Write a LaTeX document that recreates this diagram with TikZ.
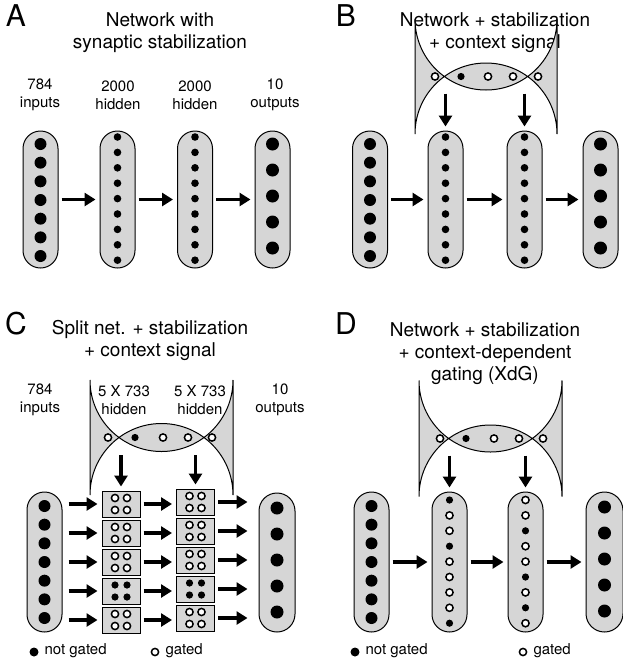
\documentclass[tikz,border=0pt]{standalone}
\usepackage{fontspec}
\setmainfont{TeX Gyre Heros}
\usetikzlibrary{arrows.meta,calc}
\definecolor{pillgray}{RGB}{214,214,214}
\tikzset{
  pill/.style={draw=black,line width=1pt,fill=pillgray,rounded corners=#1,inner sep=0pt},
  box/.style={draw=black,line width=1pt,fill=pillgray,inner sep=0pt,minimum width=38pt,minimum height=26pt},
  arr/.style={line width=3.5pt,-{Triangle[length=11pt,width=13pt]},shorten >=4pt,shorten <=3pt},
  fd/.style={fill=black},
  od/.style={fill=white,draw=black,line width=1.5pt},
  ttl/.style={font=\fontsize{19}{22}\selectfont,align=center},
  lbl/.style={font=\fontsize{15}{18}\selectfont,align=center},
  letter/.style={font=\fontsize{30}{32}\selectfont}
}
\newcommand{\mypill}[5]{\node[pill=#4/2,minimum width=#4,minimum height=#5] (#1) at (#2,#3) {};}
\begin{document}
\begin{tikzpicture}[x=1pt,y=-1pt]
\useasboundingbox (0,0) rectangle (622,662);
% ---------------- Panel A
\node[letter] (LA) at (16,16) {A};
\node[ttl] (tA) at (160,33) {Network with\\synaptic stabilization};
\node[lbl] (a1) at (40,95) {784\\inputs};
\node[lbl] (a2) at (118,95) {2000\\hidden};
\node[lbl] (a3) at (195,95) {2000\\hidden};
\node[lbl] (a4) at (275,95) {10\\outputs};
\mypill{Ai}{40.5}{199.5}{35pt}{137pt}
\mypill{Ah1}{117.5}{199.5}{35pt}{137pt}
\mypill{Ah2}{195}{199.5}{35pt}{137pt}
\mypill{Ao}{272.5}{199.5}{35pt}{137pt}
\foreach \k in {0,...,6} \fill (40.5,144+\k*18.67) circle (6pt);
\foreach \k in {0,...,8} {\fill (117.5,137+\k*15.4) circle (3.8pt); \fill (195,137+\k*15.4) circle (3.8pt);}
\foreach \k in {0,...,4} \fill (272.5,144+\k*26) circle (6.5pt);
\draw[arr] (Ai) -- (Ah1); \draw[arr] (Ah1) -- (Ah2); \draw[arr] (Ah2) -- (Ao);
% ---------------- Panel B
\node[letter] (LB) at (346,16) {B};
\node[ttl] (tB) at (495,33) {Network + stabilization\\+ context signal};
\mypill{Bc}{486}{76.5}{142pt}{27pt}
\foreach \x/\s in {435/od,461/fd,488/od,513/od,538/od} \path[\s] (\x,76.5) circle (3.6pt);
\mypill{Bi}{370}{199.5}{35pt}{137pt}
\mypill{Bh1}{445.5}{199.5}{35pt}{137pt}
\mypill{Bh2}{524.5}{199.5}{35pt}{137pt}
\mypill{Bo}{600.5}{199.5}{35pt}{137pt}
\foreach \k in {0,...,6} \fill (370,144+\k*18.67) circle (6pt);
\foreach \k in {0,...,8} {\fill (445.5,137+\k*15.4) circle (3.8pt); \fill (524.5,137+\k*15.4) circle (3.8pt);}
\foreach \k in {0,...,4} \fill (600.5,144+\k*26) circle (6.5pt);
\draw[arr] (Bi) -- (Bh1); \draw[arr] (Bh1) -- (Bh2); \draw[arr] (Bh2) -- (Bo);
\draw[arr] (Bc.south -| Bh1) -- (Bh1); \draw[arr] (Bc.south -| Bh2) -- (Bh2);
% ---------------- Panel C
\node[letter] (LC) at (16,324) {C};
\node[ttl] (tC) at (150,340) {Split net. + stabilization\\+ context signal};
\node[lbl] (c1) at (40,400) {784\\inputs};
\node[lbl] (c2) at (124,400) {5 X 733\\hidden};
\node[lbl] (c3) at (200,400) {5 X 733\\hidden};
\node[lbl] (c4) at (280,400) {10\\outputs};
\mypill{Cc}{161.5}{437.5}{143pt}{28pt}
\foreach \x/\s in {108/od,135/fd,163/od,188/od,212/od} \path[\s] (\x,437.5) circle (3.6pt);
\mypill{Ci}{44.5}{562}{35pt}{140pt}
\mypill{Co}{277}{562.5}{36pt}{139pt}
\foreach \k in {0,...,6} \fill (44.5,506+\k*18.67) circle (6pt);
\foreach \k in {0,...,4} \fill (277,508+\k*26) circle (6.5pt);
\foreach \k in {1,...,5} {
  \node[box] (Ca\k) at (121,475+\k*29) {};
  \node[box] (Cb\k) at (195.5,473+\k*29) {};
  \draw[arr,shorten <=6pt] (Ci.east |- Ca\k) -- (Ca\k);
  \draw[arr] (Ca\k) -- (Cb\k.west |- Ca\k);
  \draw[arr,shorten >=11pt] (Cb\k) -- (Co.west |- Cb\k);
}
\foreach \k/\s in {1/od,2/od,3/od,4/fd,5/od} {
  \foreach \dx in {-6,6} \foreach \dy in {-6,6} {
    \path[\s] ($(Ca\k.center)+(\dx,\dy)$) circle (3.6pt);
    \path[\s] ($(Cb\k.center)+(\dx,\dy)$) circle (3.6pt);
  }
}
\draw[arr] (Cc.south -| Ca1) -- (Ca1); \draw[arr] (Cc.south -| Cb1) -- (Cb1);
\fill (34,652) circle (4.5pt);
\node[lbl,anchor=west] (cn) at (41,651) {not gated};
\path[od] (155,652) circle (3.6pt);
\node[lbl,anchor=west] (cg) at (162,651) {gated};
% ---------------- Panel D
\node[letter] (LD) at (346,324) {D};
\node[ttl] (tD) at (485,354) {Network + stabilization\\+ context-dependent\\gating (XdG)};
\mypill{Dc}{490.5}{438.5}{143pt}{27pt}
\foreach \x/\s in {440/od,466/fd,494/od,519/od,543/od} \path[\s] (\x,438.5) circle (3.6pt);
\mypill{Di}{371.5}{562}{35pt}{140pt}
\mypill{Dh1}{449.5}{562}{35pt}{140pt}
\mypill{Dh2}{525.5}{562}{35pt}{140pt}
\mypill{Do}{604.5}{562}{37pt}{140pt}
\foreach \k in {0,...,6} \fill (371.5,506+\k*18.67) circle (6pt);
\foreach \k in {0,...,4} \fill (604.5,507+\k*26) circle (6.5pt);
\foreach \s [count=\k from 0] in {fd,od,od,fd,od,od,od,od,fd} \path[\s] (449.5,500+\k*15.4) circle (3.6pt);
\foreach \s [count=\k from 0] in {od,od,fd,od,od,fd,od,fd,od} \path[\s] (525.5,500+\k*15.4) circle (3.6pt);
\draw[arr] (Di) -- (Dh1); \draw[arr] (Dh1) -- (Dh2); \draw[arr] (Dh2) -- (Do);
\draw[arr] (Dc.south -| Dh1) -- (Dh1); \draw[arr] (Dc.south -| Dh2) -- (Dh2);
\fill (355,652) circle (4.5pt);
\node[lbl,anchor=west] (dn) at (362,651) {not gated};
\path[od] (523,652) circle (3.6pt);
\node[lbl,anchor=west] (dg) at (530,651) {gated};
\end{tikzpicture}
\end{document}
